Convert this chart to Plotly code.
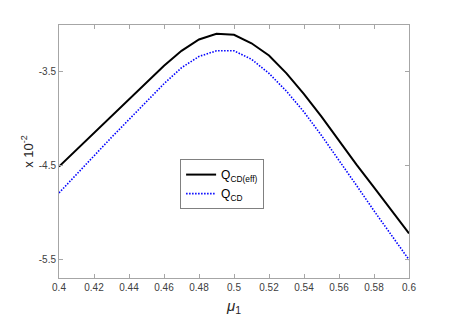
import plotly.graph_objects as go

mu = [0.40, 0.41, 0.42, 0.43, 0.44, 0.45, 0.46, 0.47, 0.48, 0.49, 0.50,
      0.51, 0.52, 0.53, 0.54, 0.55, 0.56, 0.57, 0.58, 0.59, 0.60]

q_cd_eff = [-4.51, -4.33, -4.15, -3.97, -3.79, -3.61, -3.44, -3.28, -3.16, -3.10, -3.11,
            -3.20, -3.33, -3.52, -3.74, -3.98, -4.24, -4.49, -4.73, -4.98, -5.22]

q_cd = [-4.79, -4.59, -4.39, -4.20, -4.01, -3.82, -3.63, -3.46, -3.34, -3.28, -3.28,
        -3.37, -3.52, -3.71, -3.93, -4.18, -4.44, -4.71, -4.98, -5.24, -5.50]

x_ticks = [0.40, 0.42, 0.44, 0.46, 0.48, 0.50, 0.52, 0.54, 0.56, 0.58, 0.60]
x_labels = ["0.4", "0.42", "0.44", "0.46", "0.48", "0.5", "0.52", "0.54", "0.56", "0.58", "0.6"]
y_ticks = [-3.5, -4.5, -5.5]
y_labels = ["-3.5", "-4.5", "-5.5"]

fig = go.Figure()
fig.add_trace(go.Scatter(x=mu, y=q_cd_eff, mode="lines", name="Q<sub>CD(eff)</sub>",
                         line=dict(color="black", width=2)))
fig.add_trace(go.Scatter(x=mu, y=q_cd, mode="lines", name="Q<sub>CD</sub>",
                         line=dict(color="blue", width=1.6, dash="1.5px,1.5px")))

axis_style = dict(showline=True, linecolor="#a6a6a6", linewidth=1, mirror="ticks",
                  ticks="inside", ticklen=4, tickcolor="#a6a6a6", showgrid=False,
                  zeroline=False, automargin=False,
                  tickfont=dict(size=10, color="#404040"))

fig.update_xaxes(range=[0.4, 0.6], tickvals=x_ticks, ticktext=x_labels,
                 title=dict(text="<i>μ</i><sub>1</sub>", font=dict(size=15, color="#262626"),
                            standoff=8),
                 **axis_style)
fig.update_yaxes(range=[-5.694, -3.006], tickvals=y_ticks, ticktext=y_labels,
                 title=dict(text="x 10<sup>-2</sup>", font=dict(size=13, color="#262626"),
                            standoff=2),
                 **axis_style)

# page body has an 8px margin, so the figure is a bit smaller than the window
fig.update_layout(
    width=444, height=314,
    margin=dict(l=51, r=43, t=17, b=44),
    plot_bgcolor="white", paper_bgcolor="white",
    font=dict(family="Liberation Sans, Arial, sans-serif"),
    legend=dict(x=0.346, y=0.47, xanchor="left", yanchor="top",
                bordercolor="#808080", borderwidth=1, bgcolor="white",
                font=dict(size=12, color="black"), itemwidth=30,
                tracegroupgap=0),
    showlegend=True,
)

fig.write_html("out.html")
